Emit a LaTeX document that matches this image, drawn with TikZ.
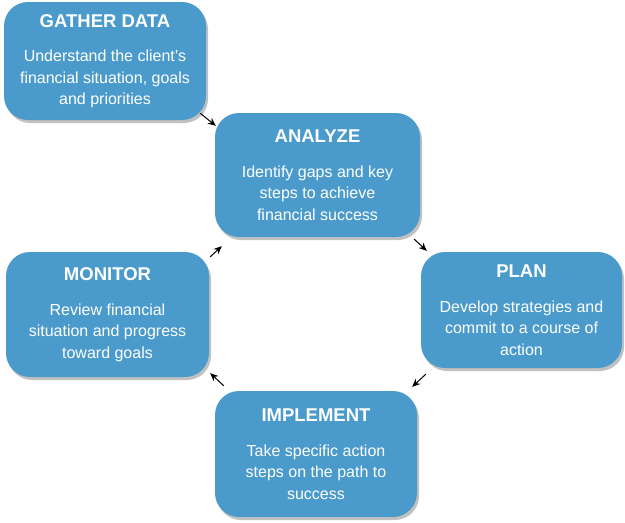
\documentclass[tikz,border=0pt]{standalone}
\usepackage{fontspec}
\setmainfont{Liberation Sans}
\usetikzlibrary{arrows.meta,shadows}

\definecolor{stageblue}{HTML}{4A9BCB}

\tikzset{
  stage/.style={rounded corners=24pt, fill=stageblue, text=white, align=center,
    font=\fontsize{16}{21.5}\selectfont,
    drop shadow={shadow xshift=2pt, shadow yshift=-3pt, opacity=0.35, fill=black!70}},
  flow/.style={line width=1pt, -{Stealth[length=8pt,width=7pt]}}
}
\newcommand{\stagetitle}[1]{{\bfseries\fontsize{18.5}{20}\selectfont #1}}

\begin{document}
\begin{tikzpicture}[x=1pt, y=-1pt]
  % page as large as the reference (y runs downwards, like pixels)
  \useasboundingbox (0,0) rectangle (625,523);
  % The five stages of the cycle.
  \node[stage, minimum width=202, minimum height=118] (gather) at (105,61)
    {\stagetitle{GATHER DATA}\\[13pt] Understand the client’s\\ financial situation, goals\\ and priorities};
  \node[stage, minimum width=205, minimum height=124] (analyze) at (317.5,175)
    {\stagetitle{ANALYZE}\\[13pt] Identify gaps and key\\ steps to achieve\\ financial success};
  \node[stage, minimum width=201, minimum height=116] (plan) at (521.5,310)
    {\stagetitle{PLAN}\\[13pt] Develop strategies and\\ commit to a course of\\ action};
  \node[stage, minimum width=202, minimum height=126] (implement) at (316,454)
    {\stagetitle{IMPLEMENT}\\[13pt] Take specific action\\ steps on the path to\\ success};
  \node[stage, minimum width=203, minimum height=125] (monitor) at (107.5,314.5)
    {\stagetitle{MONITOR}\\[13pt] Review financial\\ situation and progress\\ toward goals};
  % Short arrows between the corners, going round the cycle.
  \draw[flow] ([shift={(-6,-7)}]gather.south east) -- ([shift={(1,13)}]analyze.north west);
  \draw[flow] ([shift={(-6,2)}]analyze.south east) -- ([shift={(6,-1)}]plan.north west);
  \draw[flow] ([shift={(5,6)}]plan.south west) -- ([shift={(-5,-4)}]implement.north east);
  \draw[flow] ([shift={(9,-5)}]implement.north west) -- ([shift={(1,-4)}]monitor.south east);
  \draw[flow] ([shift={(1,5)}]monitor.north east) -- ([shift={(7,9)}]analyze.south west);
\end{tikzpicture}
\end{document}
